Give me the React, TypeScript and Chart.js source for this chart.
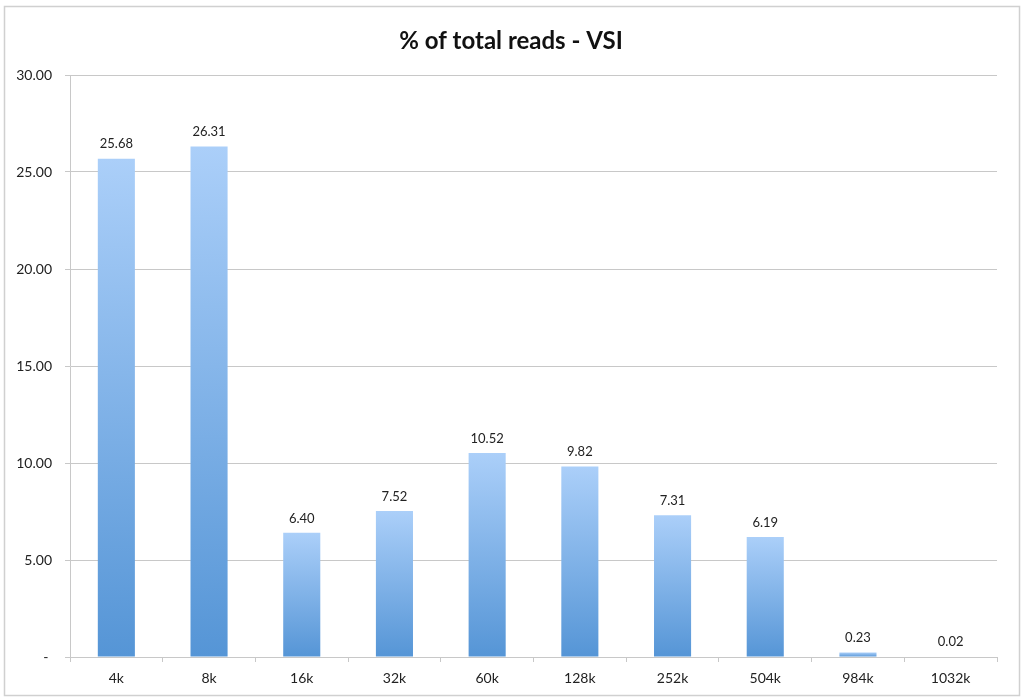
import React, { useEffect, useRef } from "react";
import { Chart, registerables } from "chart.js";

Chart.register(...registerables);

const categories = ["4k", "8k", "16k", "32k", "60k", "128k", "252k", "504k", "984k", "1032k"];
const values = [25.68, 26.31, 6.4, 7.52, 10.52, 9.82, 7.31, 6.19, 0.23, 0.02];
const titleText = "% of total reads - VSI";
const yMin = 0;
const yMax = 30;
const yStep = 5;

const FONT = "Lato, 'Open Sans', sans-serif";

const framePlugin = {
  id: "frame",
  beforeDraw(chart: any) {
    const c = chart.ctx;
    c.save();
    c.fillStyle = "#ffffff";
    c.fillRect(0, 0, chart.width, chart.height);
    c.strokeStyle = "#d0d0d0";
    c.lineWidth = 1.5;
    c.strokeRect(4.5, 6.5, 1015, 689);
    c.fillStyle = "#111111";
    c.font = `bold 24px ${FONT}`;
    c.textAlign = "center";
    c.textBaseline = "middle";
    c.fillText(titleText, 511, 41);
    c.restore();
  },
};

const labelPlugin = {
  id: "barLabels",
  afterDatasetsDraw(chart: any) {
    const c = chart.ctx;
    const meta = chart.getDatasetMeta(0);
    c.save();
    c.fillStyle = "#222222";
    c.font = `13px ${FONT}`;
    c.textAlign = "center";
    c.textBaseline = "bottom";
    meta.data.forEach((el: any, i: number) => {
      const v = chart.data.datasets[0].data[i] as number;
      c.fillText(v.toFixed(2), el.x, el.y - 8);
    });
    c.restore();
  },
};

export default function App() {
  const ref = useRef<HTMLCanvasElement>(null);
  useEffect(() => {
    document.body.style.margin = "0";
    const canvas = ref.current!;
    const chart = new Chart(canvas, {
      type: "bar",
      data: {
        labels: categories,
        datasets: [
          {
            data: values,
            barPercentage: 0.4,
            categoryPercentage: 1,
            borderWidth: 0,
            backgroundColor: (ctx: any) => {
              const ch = ctx.chart;
              const { chartArea, scales } = ch;
              if (!chartArea || !scales.y || ctx.type !== "data") return "#7fb0e8";
              const top = scales.y.getPixelForValue(ctx.raw);
              const bottom = scales.y.getPixelForValue(0);
              if (bottom - top < 1) return "#5a98d7";
              const g = ch.ctx.createLinearGradient(0, top, 0, bottom);
              g.addColorStop(0, "#abcff9");
              g.addColorStop(1, "#5595d6");
              return g;
            },
          },
        ],
      },
      options: {
        responsive: false,
        animation: false,
        layout: { padding: { top: 75, right: 27, bottom: 0, left: 0 } },
        plugins: {
          legend: { display: false },
          title: { display: false },
          tooltip: { enabled: false },
        },
        scales: {
          x: {
            afterFit: (s: any) => {
              s.height = 42;
            },
            grid: {
              offset: true,
              drawOnChartArea: false,
              drawTicks: true,
              tickLength: 5,
              color: "#c8c8c8",
            },
            border: { display: true, color: "#c8c8c8" },
            ticks: {
              color: "#222222",
              font: { family: FONT, size: 14 },
              padding: 8,
              maxRotation: 0,
            },
          },
          y: {
            min: yMin,
            max: yMax,
            afterFit: (s: any) => {
              s.width = 70;
            },
            grid: { color: "#c8c8c8", tickLength: 5, drawTicks: true },
            border: { display: true, color: "#c8c8c8" },
            ticks: {
              stepSize: yStep,
              color: "#222222",
              font: { family: FONT, size: 14 },
              padding: 13,
              callback: (v: any) => (Number(v) === 0 ? "- " : Number(v).toFixed(2)),
            },
          },
        },
      },
      plugins: [framePlugin, labelPlugin],
    } as any);
    return () => chart.destroy();
  }, []);
  return (
    <div style={{ position: "absolute", left: 0, top: 0, width: 1024, height: 699 }}>
      <canvas ref={ref} width={1024} height={699} />
    </div>
  );
}
